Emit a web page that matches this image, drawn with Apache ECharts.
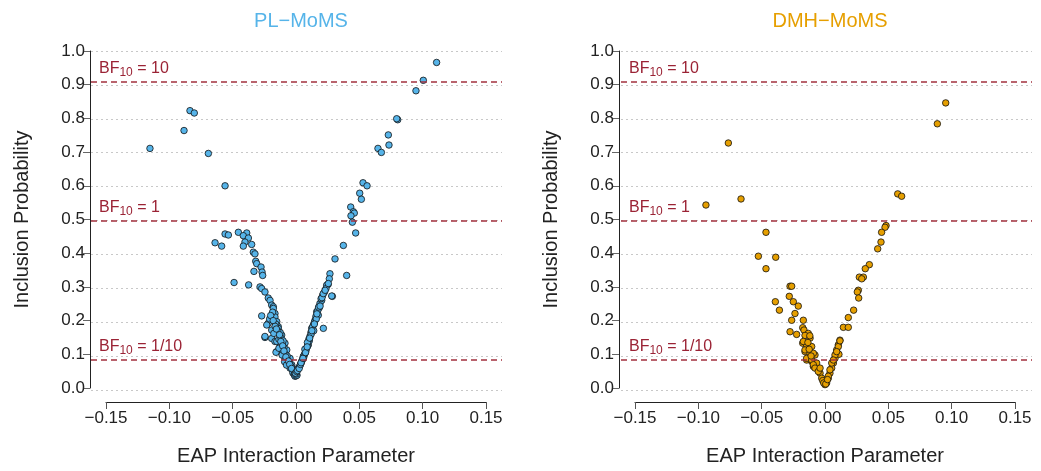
<!DOCTYPE html>
<html><head><meta charset="utf-8">
<script src="https://cdn.jsdelivr.net/npm/echarts@6/dist/echarts.min.js"></script>
<style>html,body{margin:0;padding:0;background:#fff}#c{width:1041px;height:471px}</style>
</head><body><div id="c"></div>
<script>
const panelTitles = ['PL\u2212MoMS', 'DMH\u2212MoMS'];
const xTicks = [-0.15, -0.10, -0.05, 0.00, 0.05, 0.10, 0.15];
const yTicks = [0, 0.1, 0.2, 0.3, 0.4, 0.5, 0.6, 0.7, 0.8, 0.9, 1.0];
const bfValues = [10/11, 0.5, 1/11];
const bfLabels = ['10', '1', '1/10'];

const plPoints = [
[0.111,0.966],[0.1005,0.913],[0.0947,0.882],[0.0803,0.796],[0.0795,0.799],[0.0729,0.751],[0.0734,0.721],[0.0647,0.711],[0.0674,0.699],[0.0529,0.609],[0.0561,0.600],[0.0503,0.578],[0.0516,0.560],[0.0432,0.537],[0.0453,0.523],[0.046,0.519],[0.0434,0.511],[0.0445,0.492],[0.0471,0.460],[0.0374,0.423],[0.0308,0.383],[0.040,0.334],[0.0268,0.339],[0.0263,0.324],[0.0253,0.307],[0.0242,0.305],[0.0287,0.272],[0.0216,0.177],
[-0.0837,0.823],[-0.0803,0.816],[-0.0884,0.764],[-0.1153,0.711],[-0.0692,0.696],[-0.056,0.600],[-0.0639,0.431],[-0.0587,0.421],[-0.056,0.457],[-0.0534,0.454],[-0.0455,0.462],[-0.0389,0.460],[-0.0416,0.452],[-0.0376,0.445],[-0.0403,0.433],[-0.035,0.426],[-0.0416,0.421],[-0.0337,0.403],[-0.0324,0.398],[-0.0318,0.376],[-0.031,0.369],[-0.0276,0.359],[-0.0332,0.346],[-0.0268,0.344],[-0.0263,0.334],[-0.0489,0.313],[-0.0374,0.306],[-0.0284,0.300],[-0.0271,0.295],[-0.0245,0.285],[-0.0219,0.267],[-0.0205,0.260],[-0.0192,0.246],[-0.0179,0.241],[-0.0179,0.236],[-0.0166,0.221],[-0.0271,0.214],[-0.0166,0.211],[-0.0152,0.197],[-0.0219,0.192],[-0.0231,0.187],[-0.014,0.182],[-0.014,0.177],[-0.0192,0.172],[-0.0113,0.157],[-0.0245,0.150],[-0.0245,0.153],[-0.0192,0.147],[-0.0166,0.138],[-0.0152,0.138],[-0.0087,0.133],[-0.0126,0.123],[-0.0073,0.113],[-0.0152,0.108],[-0.0105,0.108],[-0.0158,0.106],[-0.0087,0.088],[-0.0047,0.088],[-0.006,0.074],[-0.0034,0.069],[-0.0047,0.059],[-0.0021,0.049],
[-0.0125,0.165],[-0.0135,0.145],[-0.011,0.130],[-0.0095,0.120],[-0.0085,0.100],[-0.007,0.095],[-0.0065,0.082],[-0.0055,0.078],[-0.004,0.065],[-0.003,0.055],[-0.0025,0.045],[-0.0015,0.040],[-0.001,0.038],[-0.0185,0.225],[-0.016,0.190],[-0.0145,0.170],[-0.0118,0.148],[-0.0102,0.140],[-0.0208,0.205],[-0.0175,0.162],[-0.0135,0.118],[-0.011,0.098],[-0.009,0.078],[-0.0075,0.068],
[-0.020,0.215],[-0.018,0.200],[-0.0165,0.183],[-0.0155,0.175],[-0.013,0.158],[-0.012,0.138],[-0.0105,0.125],[-0.0095,0.110],[-0.008,0.092],[-0.006,0.080],[-0.005,0.070],[-0.0035,0.058],
[-0.0008,0.035],[0.0,0.036],[0.0008,0.038],[0.0003,0.042],[-0.0005,0.044],
[0.0005,0.049],[0.0018,0.059],[0.0012,0.052],[0.003,0.065],[0.0045,0.079],[0.0038,0.072],[0.0058,0.094],[0.0052,0.085],[0.0071,0.103],[0.0065,0.098],[0.0084,0.118],[0.0078,0.110],[0.0097,0.128],[0.0092,0.125],[0.011,0.153],[0.0105,0.140],[0.0102,0.145],[0.0124,0.177],[0.0118,0.165],[0.0137,0.187],[0.013,0.180],[0.015,0.201],[0.0145,0.195],[0.0163,0.226],[0.0157,0.212],[0.0176,0.216],[0.0189,0.251],[0.0183,0.238],[0.0203,0.260],[0.0211,0.275],[0.0198,0.265],[0.0237,0.295],[0.0255,0.310],[0.0282,0.273],[0.007,0.115],[0.009,0.135],[0.012,0.160],[0.014,0.170],[0.0025,0.058],[0.0035,0.070],[0.006,0.090],[0.016,0.205],[0.0172,0.230],[0.0225,0.285],
[0.004,0.075],[0.0055,0.088],[0.0075,0.105],[0.0088,0.122],[0.0108,0.148],[0.0125,0.170],[0.0145,0.190],[0.0165,0.220],[0.0178,0.240],[0.019,0.243],[0.0205,0.268],[0.0215,0.280],[0.023,0.290]
];

const dmhPoints = [
[0.0953,0.846],[0.0887,0.784],[-0.0763,0.727],[-0.0663,0.561],[-0.094,0.543],[0.0574,0.576],[0.0605,0.569],[0.0482,0.482],[0.0474,0.477],[0.0447,0.462],[0.0442,0.433],[0.0416,0.413],[0.035,0.366],[0.0318,0.354],[0.0271,0.329],[0.0303,0.329],[0.029,0.324],[0.0263,0.290],[0.0255,0.285],[0.0266,0.267],[0.0226,0.231],[0.0184,0.209],[0.0145,0.180],[0.0184,0.180],[0.0118,0.142],[0.0105,0.128],[0.0092,0.113],[0.011,0.100],[0.0079,0.088],[0.0066,0.074],[0.0053,0.059],[0.0039,0.044],[0.0026,0.029],[0.0013,0.015],[0.0,0.010],
[-0.0466,0.462],[-0.0526,0.391],[-0.0389,0.388],[-0.0466,0.354],[-0.0276,0.302],[-0.0263,0.302],[-0.0282,0.272],[-0.0392,0.256],[-0.036,0.231],[-0.025,0.256],[-0.0211,0.243],[-0.0237,0.221],[-0.0263,0.201],[-0.0171,0.201],[-0.0176,0.179],[-0.0166,0.172],[-0.0276,0.167],[-0.0224,0.159],[-0.0132,0.162],[-0.0158,0.156],[-0.0118,0.148],[-0.0176,0.133],[-0.0145,0.128],[-0.0105,0.123],[-0.0158,0.108],[-0.0118,0.103],[-0.0079,0.098],[-0.0145,0.083],[-0.0105,0.079],[-0.0066,0.074],[-0.0092,0.064],[-0.0053,0.054],[-0.0039,0.044],[-0.0026,0.029],
[-0.0171,0.138],[-0.0158,0.113],[-0.0145,0.088],[-0.0105,0.083],[-0.0092,0.069],[-0.0079,0.059],[-0.0053,0.049],[-0.0092,0.103],[-0.0039,0.059],[-0.0018,0.022],[-0.001,0.015],[0.0026,0.035],[0.0039,0.054],[0.0053,0.074],[0.0079,0.098],[0.0105,0.123],[0.0118,0.140],[0.0092,0.108],[0.0066,0.083],[0.0006,0.012],[0.002,0.025],[-0.0125,0.115],[-0.011,0.095],[-0.0135,0.135],[-0.012,0.155]
];

const panelData = [plPoints, dmhPoints];
const panelColors = ['#56B4E9', '#E69F00'];

const FONT = 'Liberation Sans, Arial, sans-serif';
const axisLeft = [106, 635];   // x = -0.15 position
const bgLeft = [91, 621];
const TOP = 51, H = 339, W = 380, BGW = 411;

const fmtX = v => Math.abs(v) < 1e-9 ? '0.00' : (v < 0 ? '\u2212' : '') + Math.abs(v).toFixed(2);

const option = {
  animation: false,
  backgroundColor: '#fff',
  title: [], grid: [], xAxis: [], yAxis: [], series: []
};

for (let p = 0; p < 2; p++) {
  option.title.push({
    text: panelTitles[p], left: axisLeft[p] + W / 2, top: 6, textAlign: 'center',
    textStyle: { color: panelColors[p], fontSize: 20, fontWeight: 'normal', fontFamily: FONT }
  });
  option.grid.push({ left: axisLeft[p], top: TOP, width: W, height: H });
  option.grid.push({ left: bgLeft[p], top: TOP, width: BGW, height: H });
  const gi = p * 2, bi = p * 2 + 1;
  option.xAxis.push({
    gridIndex: gi, type: 'value', min: xTicks[0], max: xTicks[xTicks.length - 1], interval: 0.05,
    position: 'bottom', offset: 14,
    name: 'EAP Interaction Parameter', nameLocation: 'middle', nameGap: 44,
    nameTextStyle: { fontSize: 20, color: '#222', fontFamily: FONT },
    axisLine: { show: true, onZero: false, lineStyle: { color: '#222', width: 1 } },
    axisTick: { show: true, length: 7, lineStyle: { color: '#555' } },
    axisLabel: { formatter: fmtX, fontSize: 17, color: '#222', margin: 8, fontFamily: FONT },
    splitLine: { show: false }
  });
  option.yAxis.push({
    gridIndex: gi, type: 'value', min: yTicks[0], max: yTicks[yTicks.length - 1], interval: 0.1, offset: 16,
    name: 'Inclusion Probability', nameLocation: 'middle', nameGap: 58,
    nameTextStyle: { fontSize: 20, color: '#222', fontFamily: FONT },
    axisLine: { show: true, onZero: false, lineStyle: { color: '#222', width: 1 } },
    axisTick: { show: true, length: 7, lineStyle: { color: '#666' } },
    axisLabel: { formatter: v => v.toFixed(1), fontSize: 17, color: '#222', margin: 5, fontFamily: FONT },
    splitLine: { show: false }
  });
  option.xAxis.push({ gridIndex: bi, type: 'value', min: -1, max: 1, show: false });
  option.yAxis.push({
    gridIndex: bi, type: 'value', min: 0, max: 1, interval: 0.1,
    axisLine: { show: false }, axisTick: { show: false }, axisLabel: { show: false },
    splitLine: { show: true, lineStyle: { color: '#c8c8c8', type: [2, 3], width: 1 } }
  });
  option.series.push({
    type: 'scatter', xAxisIndex: bi, yAxisIndex: bi, data: [], z: 1, silent: true,
    markLine: {
      silent: true, symbol: 'none', animation: false,
      lineStyle: { color: '#A3303E', type: [6, 4], width: 1.6 },
      data: bfValues.map((v, i) => ({
        yAxis: v,
        label: {
          show: true, position: 'insideStartTop', distance: [8, 3],
          formatter: '{a|BF}{s|10}{a| = ' + bfLabels[i] + '}',
          rich: {
            a: { fontSize: 16, color: '#9B2335', fontFamily: FONT, lineHeight: 20 },
            s: { fontSize: 12, color: '#9B2335', fontFamily: FONT, lineHeight: 12, verticalAlign: 'bottom' }
          }
        }
      }))
    }
  });
  option.series.push({
    type: 'scatter', xAxisIndex: gi, yAxisIndex: gi, data: panelData[p], z: 3, clip: false,
    symbolSize: 6.5,
    itemStyle: { color: panelColors[p], borderColor: '#111', borderWidth: 0.8, opacity: 1 }
  });
}

const chart = echarts.init(document.getElementById('c'), null, { renderer: 'canvas' });
chart.setOption(option);
</script>
</body></html>
